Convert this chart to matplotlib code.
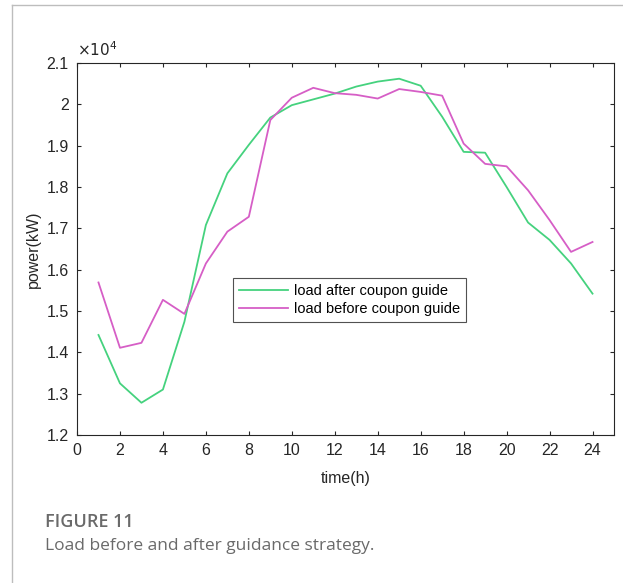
import numpy as np
import matplotlib
matplotlib.use('Agg')
from matplotlib import pyplot as plt
from matplotlib.lines import Line2D

# hourly load, in units of 1e4 kW
hours = list(range(1, 25))
load_after = [1.442, 1.325, 1.278, 1.310, 1.474, 1.708, 1.833, 1.902, 1.968, 1.998,
              2.012, 2.026, 2.043, 2.055, 2.062, 2.045, 1.970, 1.885, 1.883, 1.800,
              1.714, 1.672, 1.615, 1.542]
load_before = [1.569, 1.411, 1.423, 1.527, 1.493, 1.615, 1.692, 1.728, 1.962, 2.016,
               2.040, 2.027, 2.023, 2.014, 2.037, 2.030, 2.021, 1.905, 1.856, 1.850,
               1.792, 1.720, 1.643, 1.667]
xticks = list(range(0, 26, 2))
yticks = [1.2, 1.3, 1.4, 1.5, 1.6, 1.7, 1.8, 1.9, 2.0, 2.1]
ytick_labels = ['1.2', '1.3', '1.4', '1.5', '1.6', '1.7', '1.8', '1.9', '2', '2.1']

green = '#45d27e'
pink = '#d65ec6'

plt.rcParams['font.family'] = ['Liberation Sans', 'DejaVu Sans']

fig = plt.figure(figsize=(6.23, 5.83), dpi=100)

# page frame lines (left and top)
fig.add_artist(Line2D([12 / 623, 12 / 623], [0, 1 - 5 / 583], color='#bdbdbd', lw=1.0))
fig.add_artist(Line2D([12 / 623, 1], [1 - 5 / 583, 1 - 5 / 583], color='#bdbdbd', lw=1.0))

ax = fig.add_axes([77 / 623, 1 - 435 / 583, 537 / 623, 372 / 583])
ax.plot(hours, load_after, color=green, lw=1.3, label='load after coupon guide')
ax.plot(hours, load_before, color=pink, lw=1.3, label='load before coupon guide')

ax.set_xlim(0, 25)
ax.set_ylim(1.2, 2.1)
ax.set_xticks(xticks)
ax.set_yticks(yticks)
ax.set_yticklabels(ytick_labels)
ax.tick_params(direction='in', length=3, width=0.8, labelsize=11.5, colors='#262626',
               top=True, right=True, labeltop=False, labelright=False, pad=6)
for s in ax.spines.values():
    s.set_color('#262626')
    s.set_linewidth(0.8)

ax.set_xlabel('time(h)', fontsize=11.5, color='#262626', labelpad=9)
ax.set_ylabel('power(kW)', fontsize=11.5, color='#262626', labelpad=4)
ax.text(0.0, 1.012, r'$\times10^{4}$', transform=ax.transAxes, fontsize=11,
        color='#262626', ha='left', va='bottom')

leg = ax.legend(loc='upper left', bbox_to_anchor=(0.29, 0.422), borderaxespad=0,
                fontsize=10.5, frameon=True, fancybox=False, edgecolor='#262626',
                borderpad=0.4, handlelength=3.4, handletextpad=0.4, labelspacing=0.3)
leg.get_frame().set_linewidth(0.8)

fig.text(45 / 623, 1 - 522 / 583, 'FIGURE 11', fontsize=13, color='#6a6a6a',
         family='Open Sans', fontweight='semibold', va='center')
fig.text(45 / 623, 1 - 546 / 583, 'Load before and after guidance strategy.', fontsize=12.5,
         color='#6a6a6a', family='Open Sans', va='center')

fig.savefig('out.png', dpi=100)
